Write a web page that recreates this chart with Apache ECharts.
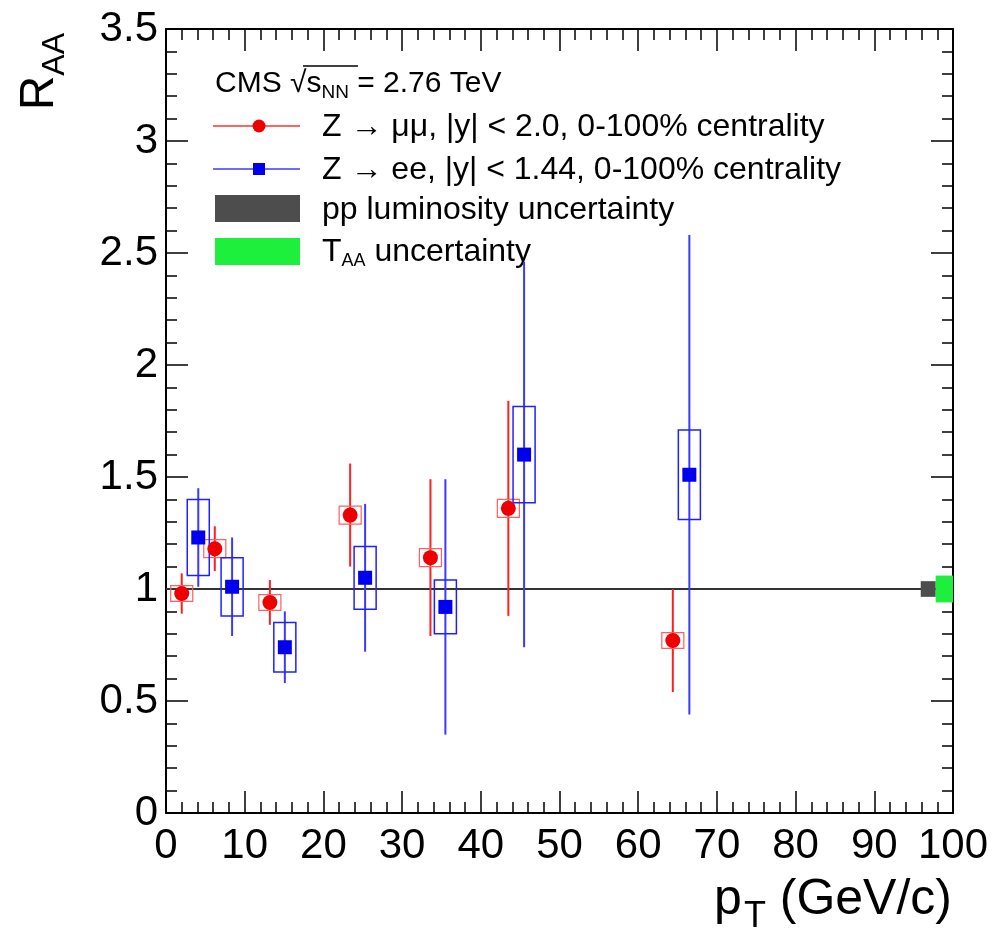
<!DOCTYPE html>
<html>
<head>
<meta charset="utf-8">
<title>CMS Z RAA vs pT</title>
<script src="https://cdn.jsdelivr.net/npm/echarts@6/dist/echarts.min.js"></script>
<style>
  html, body { margin: 0; padding: 0; background: #fff; }
  #chart { width: 994px; height: 940px; }
</style>
</head>
<body>
<div id="chart"></div>
<script>
// Z -> mumu, |y| < 2.0
const muPt = [2.0, 6.2, 13.2, 23.4, 33.6, 43.5, 64.4]
const muR = [0.98, 1.18, 0.94, 1.33, 1.14, 1.36, 0.77]
const muStat = [0.09, 0.10, 0.10, 0.23, 0.35, 0.48, 0.23]
const muSyst = [0.035, 0.04, 0.035, 0.04, 0.04, 0.04, 0.035]
const muHalfW = [1.4, 1.4, 1.4, 1.4, 1.4, 1.4, 1.4]

// Z -> ee, |y| < 1.44
const ePt = [4.1, 8.4, 15.1, 25.3, 35.5, 45.5, 66.5]
const eR = [1.23, 1.01, 0.74, 1.05, 0.92, 1.60, 1.51]
const eStat = [0.22, 0.22, 0.16, 0.33, 0.57, 0.86, 1.07]
const eSyst = [0.17, 0.13, 0.11, 0.14, 0.12, 0.215, 0.20]
const eHalfW = [1.4, 1.4, 1.4, 1.4, 1.4, 1.4, 1.4]

// global uncertainties drawn at R = 1 (pp lumi, T_AA)
const uncX0 = [95.9, 97.8]
const uncX1 = [97.8, 100]
const uncHalf = [0.035, 0.06]

// reference line
const refX = [0, 100]
const refY = [1, 1]

const FONT = 'Liberation Sans'
const chart = echarts.init(document.getElementById('chart'))

function errBar(color) {
  return (params, api) => {
    const x = api.value(0), y = api.value(1), e = api.value(2)
    const top = api.coord([x, y + e])
    const bot = api.coord([x, y - e])
    return {
      type: 'line',
      shape: { x1: top[0], y1: top[1], x2: bot[0], y2: bot[1] },
      style: { stroke: color, lineWidth: 2 },
    }
  }
}

function systBox(color, width) {
  return (params, api) => {
    const x = api.value(0), y = api.value(1), dy = api.value(2), dx = api.value(3)
    const a = api.coord([x - dx, y + dy])
    const b = api.coord([x + dx, y - dy])
    return {
      type: 'rect',
      shape: { x: a[0], y: a[1], width: b[0] - a[0], height: b[1] - a[1] },
      style: { stroke: color, fill: 'none', lineWidth: width },
    }
  }
}

function bandBox(params, api) {
  const x0 = api.value(0), x1 = api.value(1), h = api.value(2)
  const a = api.coord([x0, 1 + h])
  const b = api.coord([x1, 1 - h])
  const colors = ['#4d4d4d', '#1eee3c']
  return {
    type: 'rect',
    shape: { x: a[0], y: a[1], width: b[0] - a[0], height: b[1] - a[1] },
    style: { fill: colors[params.dataIndex] },
  }
}

const tickStyle = { color: '#000', width: 1.5 }
function xAx(pos, labels) {
  return {
    type: 'value', min: 0, max: 100, interval: 10, position: pos,
    axisLine: { onZero: false, lineStyle: { color: '#000', width: 2 } },
    axisTick: { inside: true, length: 22, lineStyle: tickStyle },
    minorTick: { show: true, splitNumber: 5, length: 11, lineStyle: tickStyle },
    axisLabel: { show: labels, fontSize: 42, color: '#000', fontFamily: FONT, margin: 12,
      showMinLabel: true, showMaxLabel: true },
    splitLine: { show: false },
  }
}
function yAx(pos, labels) {
  return {
    type: 'value', min: 0, max: 3.5, interval: 0.5, position: pos,
    axisLine: { onZero: false, lineStyle: { color: '#000', width: 2 } },
    axisTick: { inside: true, length: 22, lineStyle: tickStyle },
    minorTick: { show: true, splitNumber: 5, length: 11, lineStyle: tickStyle },
    axisLabel: { show: labels, fontSize: 42, color: '#000', fontFamily: FONT, margin: 8,
      showMinLabel: true, showMaxLabel: true },
    splitLine: { show: false },
  }
}

const option = {
  backgroundColor: '#fff',
  animation: false,
  grid: { left: 166, right: 41, top: 29, bottom: 127 },
  xAxis: [xAx('bottom', true), xAx('top', false)],
  yAxis: [yAx('left', true), yAx('right', false)],
  series: [
    {
      type: 'line', data: refX.map((x, i) => [x, refY[i]]), symbol: 'none',
      lineStyle: { color: '#333', width: 2 }, z: 1,
    },
    {
      type: 'custom', renderItem: bandBox, z: 2,
      data: uncX0.map((x, i) => [x, uncX1[i], uncHalf[i]]),
      encode: { x: [0, 1] },
    },
    {
      type: 'custom', renderItem: errBar('#ff2020'), z: 3,
      data: muPt.map((x, i) => [x, muR[i], muStat[i]]), encode: { x: 0, y: 1 },
    },
    {
      type: 'custom', renderItem: systBox('#ff6060', 1.2), z: 3,
      data: muPt.map((x, i) => [x, muR[i], muSyst[i], muHalfW[i]]), encode: { x: 0, y: 1 },
    },
    {
      type: 'custom', renderItem: errBar('#3a3aff'), z: 3,
      data: ePt.map((x, i) => [x, eR[i], eStat[i]]), encode: { x: 0, y: 1 },
    },
    {
      type: 'custom', renderItem: systBox('#2020ff', 1.5), z: 3,
      data: ePt.map((x, i) => [x, eR[i], eSyst[i], eHalfW[i]]), encode: { x: 0, y: 1 },
    },
    {
      type: 'scatter', symbol: 'circle', symbolSize: 15, z: 4,
      itemStyle: { color: '#ee0000', opacity: 1 },
      data: muPt.map((x, i) => [x, muR[i]]),
    },
    {
      type: 'scatter', symbol: 'rect', symbolSize: 14, z: 4,
      itemStyle: { color: '#0000ee', opacity: 1 },
      data: ePt.map((x, i) => [x, eR[i]]),
    },
  ],
  graphic: [
    // y axis title
    {
      type: 'text', x: 40, y: 33, rotation: Math.PI / 2,
      style: {
        text: '{a|R}{s|AA}', align: 'right', verticalAlign: 'middle', fill: '#000',
        rich: {
          a: { fontSize: 48, fontFamily: FONT, fill: '#000' },
          s: { fontSize: 32, fontFamily: FONT, fill: '#000', padding: [30, 0, 0, 0] },
        },
      },
    },
    // x axis title
    {
      type: 'text', x: 952, y: 900,
      style: {
        text: '{a|p}{s|T}{a| (GeV/c)}', align: 'right', verticalAlign: 'middle', fill: '#000',
        rich: {
          a: { fontSize: 50, fontFamily: FONT, fill: '#000' },
          s: { fontSize: 36, fontFamily: FONT, fill: '#000', padding: [34, 0, 0, 2] },
        },
      },
    },
    // legend header
    {
      type: 'text', x: 215, y: 84,
      style: {
        text: '{a|CMS √}{a|s}{s|NN}{a| = 2.76 TeV}', verticalAlign: 'middle', fill: '#000',
        rich: {
          a: { fontSize: 30, fontFamily: FONT, fill: '#000' },
          s: { fontSize: 19, fontFamily: FONT, fill: '#000', padding: [18, 0, 0, 0] },
        },
      },
    },
    { type: 'line', shape: { x1: 303, y1: 66, x2: 358, y2: 66 }, style: { stroke: '#000', lineWidth: 1.5 } },
    // mu entry
    { type: 'line', shape: { x1: 213, y1: 126, x2: 300, y2: 126 }, style: { stroke: '#ff3030', lineWidth: 1.5 } },
    { type: 'circle', shape: { cx: 259, cy: 126, r: 6.5 }, style: { fill: '#ee0000' } },
    {
      type: 'text', x: 322, y: 127,
      style: { text: 'Z → μμ, |y| < 2.0, 0-100% centrality', verticalAlign: 'middle',
        fontSize: 32, fontFamily: FONT, fill: '#000' },
    },
    // e entry
    { type: 'line', shape: { x1: 213, y1: 169, x2: 300, y2: 169 }, style: { stroke: '#3a3aff', lineWidth: 1.5 } },
    { type: 'rect', shape: { x: 253, y: 163, width: 12, height: 12 }, style: { fill: '#0000ee' } },
    {
      type: 'text', x: 322, y: 170,
      style: { text: 'Z → ee, |y| < 1.44, 0-100% centrality', verticalAlign: 'middle',
        fontSize: 32, fontFamily: FONT, fill: '#000' },
    },
    // pp lumi
    { type: 'rect', shape: { x: 215, y: 195, width: 85, height: 27 }, style: { fill: '#4d4d4d' } },
    {
      type: 'text', x: 322, y: 210,
      style: { text: 'pp luminosity uncertainty', verticalAlign: 'middle',
        fontSize: 32, fontFamily: FONT, fill: '#000' },
    },
    // T_AA
    { type: 'rect', shape: { x: 215, y: 238, width: 85, height: 27 }, style: { fill: '#1eee3c' } },
    {
      type: 'text', x: 322, y: 252,
      style: {
        text: '{a|T}{s|AA}{a| uncertainty}', verticalAlign: 'middle', fill: '#000',
        rich: {
          a: { fontSize: 32, fontFamily: FONT, fill: '#000' },
          s: { fontSize: 18, fontFamily: FONT, fill: '#000', padding: [18, 0, 0, 0] },
        },
      },
    },
  ],
}

chart.setOption(option)
</script>
</body>
</html>
